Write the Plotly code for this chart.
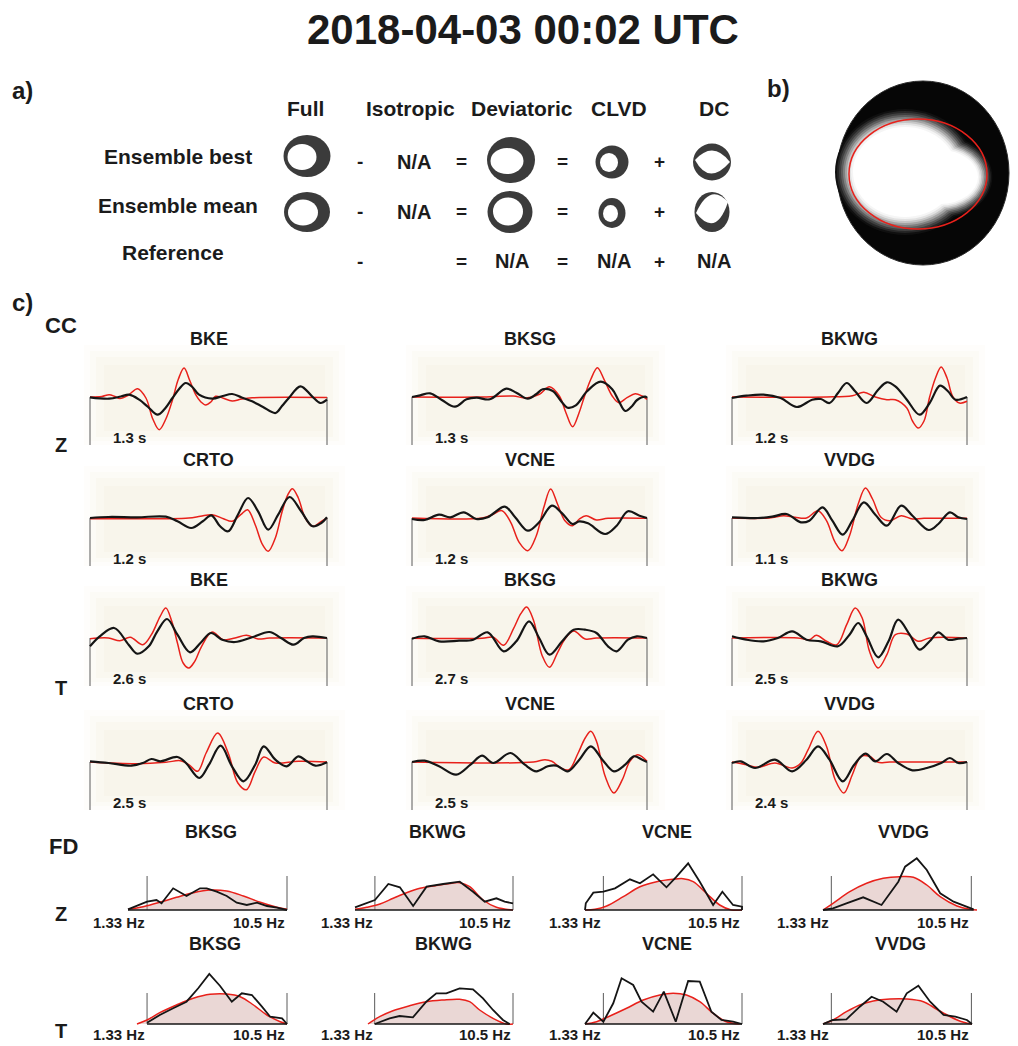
import plotly.graph_objects as go

# ======================= DATA =======================
TITLE = "2018-04-03 00:02 UTC"

A_COLUMNS = ["Full", "Isotropic", "Deviatoric", "CLVD", "DC"]
A_ROWS = ["Ensemble best", "Ensemble mean", "Reference"]
A_ROW1_TOKENS = ["ring", "-", "N/A", "=", "ring", "=", "ring", "+", "dc"]
A_ROW2_TOKENS = ["ring", "-", "N/A", "=", "ring", "=", "ring", "+", "dc"]
A_ROW3_TOKENS = ["", "-", "", "=", "N/A", "=", "N/A", "+", "N/A"]

CC_ROW_COMPONENT = ["Z", "", "T", ""]
CC_STATIONS = [["BKE", "BKSG", "BKWG"], ["CRTO", "VCNE", "VVDG"],
               ["BKE", "BKSG", "BKWG"], ["CRTO", "VCNE", "VVDG"]]
CC_SHIFTS = [["1.3 s", "1.3 s", "1.2 s"], ["1.2 s", "1.2 s", "1.1 s"],
             ["2.6 s", "2.7 s", "2.5 s"], ["2.5 s", "2.5 s", "2.4 s"]]

# --- CC waveforms: x = % of window, y = amplitude (red = synthetic, black = observed)
Z_BKE_SYN_X = [0, 5, 8.1, 10.5, 12.6, 16, 20.1, 23.6, 26.5, 29.2, 32, 34.8, 37.3, 39.7, 42, 44.6, 46.8, 48.8, 51, 53, 56, 60, 64, 68.4, 100]
Z_BKE_SYN_Y = [0, 0.5, 2.3, 0.5, -1.5, 1.5, 8.3, -1, -22, -32.7, -22, -3, 18, 29, 17, 2.3, -5, -8, -5, 0.7, -1, -4, -2, -0.8, -0.5]
Z_BKE_OBS_X = [0, 8.1, 13, 16.5, 20.8, 24.5, 28.5, 31.5, 34.8, 37.6, 40.4, 43.2, 46, 51.6, 56, 60, 64, 68.4, 73, 78.3, 81, 83.9, 88.8, 93.7, 97.2, 100]
Z_BKE_OBS_Y = [-0.3, -1.7, 0.5, 2.3, -2.7, -10, -17.7, -12, -1, 8, 14, 10, 2.3, -1.7, 1, 3, -0.5, -4.3, -10, -16, -9, -1, 10.7, 0.7, -6, -2.7]

Z_BKSG_SYN_X = [0, 28.9, 43, 48.6, 54.2, 58.5, 62.7, 65.5, 68.3, 71.1, 73.2, 76.1, 78.9, 81.7, 85.2, 88, 91.5, 95, 97.9, 100]
Z_BKSG_SYN_Y = [0, 0, 1, -1, 2.7, 10.3, 1, -15.7, -29.7, -15.7, -0.7, 17.7, 29.3, 17.7, 1, -5.7, -0.7, 3.3, 1, -2.3]
Z_BKSG_OBS_X = [0, 3.5, 7.7, 12.7, 18.3, 23.2, 27.5, 33.1, 40.1, 44.4, 49.3, 52.8, 55.6, 59.9, 63.4, 66.2, 69.7, 74.6, 80.3, 85.2, 88, 90.8, 93.7, 95.8, 99.3, 100]
Z_BKSG_OBS_Y = [0, 1.7, 3.7, -3, -9.7, -2.3, -0.7, -2.3, 8.3, 4.3, -1.7, 2.7, 7.7, 6, -4, -10.7, -8.3, 6, 15.3, 7.7, -4, -14, -9, -3, 0.3, -0.7]

Z_BKWG_SYN_X = [0, 40.2, 51.2, 56.1, 61, 65.9, 69.5, 74.4, 76.8, 79.3, 81.7, 84.1, 86.6, 89, 91.5, 93.9, 96.8, 100]
Z_BKWG_SYN_Y = [0, 0, 1.3, 4.7, 0, -2.7, -2.7, -11, -24, -31, -24, 0, 19, 30, 19, 0.7, -6, -4.3]
Z_BKWG_OBS_X = [0, 6.1, 13.4, 20.7, 27.6, 34.1, 37.8, 41.5, 45.1, 48.8, 52.4, 57.3, 62.2, 65.9, 69.5, 74.4, 79.8, 84.1, 88.5, 91.9, 95.1, 100]
Z_BKWG_OBS_Y = [-1, 1.3, 2.3, -1, -10, -2.7, -2, -6, 4, 14, 5.7, -6, 7.3, 14.7, 10.7, -2.7, -17.7, -6, 11.3, 5.7, -2.7, 0]

Z_CRTO_SYN_X = [0, 32, 41.7, 46.6, 51.5, 56.3, 59.9, 63.6, 66.5, 69.7, 72.8, 75.2, 78.2, 81.1, 83.5, 85.4, 87.9, 90.8, 94, 97.6, 100]
Z_CRTO_SYN_Y = [-0.7, -0.7, 0, 1.7, 3.3, -0.7, -3.3, 3.3, 8.3, -6.7, -26.7, -33.3, -20, 6.7, 23.3, 29.3, 20, 0, -8.3, -3.3, 0]
Z_CRTO_OBS_X = [0, 7.8, 19.9, 32, 36.9, 42.7, 47.6, 51.2, 54.9, 58.3, 62.4, 66.7, 70.9, 75.2, 79.4, 84.2, 89.1, 93.9, 97.6, 100]
Z_CRTO_OBS_Y = [0, 1, 0.7, 1.3, -3.3, -10, -3.3, 2.7, -8.3, -13.3, 3.3, 20, 6.7, -11.7, 3.3, 21, 6.7, -8.3, -5, 0.7]

Z_VCNE_SYN_X = [0, 29.8, 34.1, 38.3, 42, 45.6, 49.3, 52.9, 56.1, 59, 61.9, 65.1, 68.3, 71.2, 74.1, 78.5, 83.4, 100]
Z_VCNE_SYN_Y = [0, 0, 3.3, 7.3, -4.3, -24.3, -32.7, -17.7, 10.7, 29, 14, -2.7, -7.7, -1, 2.3, -2, -0.3, -0.3]
Z_VCNE_OBS_X = [0, 5.4, 11.5, 16.3, 22, 27.3, 32.2, 39.5, 43.9, 49.3, 54.1, 59.5, 63.9, 68.3, 71.2, 74.9, 82.2, 87.1, 91.9, 96.8, 100]
Z_VCNE_OBS_Y = [-1, -2, 3.3, 0.7, 5.7, -1, 0.7, 11.3, 0.7, -12.7, -4.3, 12.3, 4.7, -6, -3.3, -5.3, -16, -7.7, 6.7, 2.3, 0]

Z_VVDG_SYN_X = [0, 15.9, 22, 26.8, 31.7, 36.6, 40.2, 43.9, 46.8, 50, 53.7, 56.8, 59.8, 63.4, 67.1, 72, 76.8, 81.7, 100]
Z_VVDG_SYN_Y = [0, 0, 2.3, 0.7, 0, 7.3, -2.7, -24.3, -32.7, -17.7, 14, 30, 19, 0.7, -2.7, 2.3, -1, -0.3, -0.3]
Z_VVDG_OBS_X = [0, 11, 17.1, 23.2, 29.3, 32.9, 38.5, 42.7, 47.1, 51.2, 56.1, 61, 65.9, 72, 76.8, 83.7, 87.8, 92.7, 96.3, 100]
Z_VVDG_OBS_Y = [0.7, 0, 1.3, 4, -4.3, -2.7, 10.7, -2.7, -16.7, -2.7, 15.7, 3.3, -7.7, 12.3, 2.3, -12, -6, 5.7, 0.7, -1]

T_BKE_SYN_X = [0, 7.8, 12.6, 17, 22.3, 25.9, 29.6, 32, 34.5, 36.9, 39.3, 41.7, 44.2, 47.1, 51.5, 56.3, 61.2, 66, 70.9, 75.7, 100]
T_BKE_SYN_Y = [-0.7, 0, -2.7, 0.7, -6.7, 3.3, 21.7, 30, 16.7, -5, -25, -30, -23.3, -8.3, 6, -1.7, 0, 2.7, -1, 0, 0]
T_BKE_OBS_X = [0, 4.1, 10.2, 16.3, 19.9, 24.8, 28.4, 32.5, 36.9, 42.2, 46.6, 51, 55.8, 61.2, 68.4, 75.7, 80.6, 85.9, 90.3, 93.9, 100]
T_BKE_OBS_Y = [-8.3, 1.7, 10, -6.7, -15.7, -8.3, 6.7, 19, 3.3, -14.3, -5, 5, -1.7, -4, 0.7, 6, 0, -6.7, 0, 1.7, 0]

T_BKSG_SYN_X = [0, 29.8, 34.6, 39, 43.2, 46.3, 48.8, 51.7, 55.4, 58.5, 62, 65.1, 68.8, 73.7, 78.5, 100]
T_BKSG_SYN_Y = [-0.3, -0.3, 0.7, -7.3, 9.3, 24.3, 31, 17.7, -17.7, -29.3, -14.3, -1, 7, -1, 0, 0]
T_BKSG_OBS_X = [0, 5.4, 11.5, 20, 26.1, 32.2, 39, 44.4, 49.8, 54.1, 58.5, 63.9, 68.8, 73.7, 78.5, 83.4, 87.1, 91.9, 95.6, 100]
T_BKSG_OBS_Y = [-0.7, 1.7, -3.3, -2.7, -1.7, 5.7, -13.3, -3.3, 16.7, 0, -16.7, -3.3, 8.3, 8.3, 5, -8.3, -13.3, -1.7, 1.7, 0]

T_BKWG_SYN_X = [0, 28, 32.9, 35.9, 40.2, 44.6, 48.8, 52.4, 55.4, 58.5, 62.2, 65.9, 69.5, 74.4, 79.3, 84.1, 100]
T_BKWG_SYN_Y = [0, 0, -1.7, 2.7, -3.3, -6.7, 13.3, 30, 20, -13.3, -30, -16.7, 3.3, 4, -3.3, 0, 0]
T_BKWG_OBS_X = [0, 6.1, 13.4, 19.5, 25.6, 31.7, 37.8, 45.1, 50, 53.7, 57.3, 62.2, 66.6, 70.7, 75.6, 79.8, 84.1, 87.8, 91.9, 96.3, 100]
T_BKWG_OBS_Y = [1.7, -1.7, -3.3, 0, 6.7, -1.7, -3.3, -8.3, 3.3, 15, 1.7, -19.3, -3.3, 18.3, 3.3, -11.7, -3.3, 5.7, -1.7, -0.7, 0]

T_CRTO_SYN_X = [0, 19.9, 32, 38.1, 41.7, 45.4, 49, 53.9, 58.3, 62.4, 66, 69.7, 73.3, 78.2, 87.9, 100]
T_CRTO_SYN_Y = [0, -1.7, -0.3, 1.3, -2.7, -9.3, 9, 29, 9, -21, -27.7, -9.3, 5, -1, 0.7, 0]
T_CRTO_OBS_X = [0, 7.8, 17.5, 22.3, 25.9, 29.6, 36.9, 40.5, 46.1, 50.2, 55.1, 59.9, 64.8, 69.7, 73.3, 78.2, 83, 87.9, 91.5, 95.1, 100]
T_CRTO_OBS_Y = [0.7, -1, -3.7, -1, 3, 0.7, 5, -1, -16, -2.7, 16.3, -4.3, -19.3, -2.7, 15.7, 2.3, -4.3, 5.7, 0.7, -3.7, -0.3]

T_VCNE_SYN_X = [0, 51.7, 56.6, 59.5, 63.4, 66.8, 70.7, 73.7, 76.1, 78.5, 82.2, 85.9, 89.5, 92.7, 96.1, 100]
T_VCNE_SYN_Y = [0, 0, 2.3, 0.7, -6, -7.7, 9, 24, 30.7, 20.7, -14.3, -31, -17.7, 0.7, 7.3, 0.7]
T_VCNE_OBS_X = [0, 5.4, 11.5, 18.8, 24.9, 29.8, 34.6, 41.9, 48, 52.9, 57.8, 61.5, 66.3, 71.2, 76.1, 81, 85.9, 90.7, 94.4, 98, 100]
T_VCNE_OBS_Y = [0, 1.3, -4.3, -12.7, -2.7, 6.3, -1, 9, -2.7, -9.3, -4.3, -3.7, -9.3, 2.3, 15.7, 2.3, -9.3, -2.7, 5.7, 2.3, 0]

T_VVDG_SYN_X = [0, 6.1, 11, 18.3, 25.6, 29.3, 32.4, 36.6, 40.2, 43.9, 47.6, 51.2, 54.9, 58.5, 62.2, 67.1, 100]
T_VVDG_SYN_Y = [0, -2.7, -5.3, -1, -6, -1, 12.3, 30.7, 15.7, -17.7, -31, -12.7, 5.7, 5.7, -0.3, 0, 0]
T_VVDG_OBS_X = [0, 3.7, 9.8, 18.3, 25.6, 31.7, 36.6, 41.5, 47.1, 52, 56.8, 61, 65.9, 70.7, 76.8, 82.9, 89, 92.7, 96.3, 100]
T_VVDG_OBS_Y = [-1, 0.7, -6, 2.3, -9.3, 2.3, 15.7, 2.3, -19.3, -2.7, 8.3, 0.7, 8, -1, -8.3, -6, -1, 4, -1, 0]

# --- FD spectra: x = % of frequency window, y = amplitude
FD_STATIONS = ["BKSG", "BKWG", "VCNE", "VVDG"]
FD_COMPONENTS = ["Z", "T"]
FD_LOW_LABEL = "1.33 Hz"
FD_HIGH_LABEL = "10.5 Hz"

FD_Z_BKSG_SYN_X = [0, 9.5, 20, 30.5, 41.1, 51.6, 62.1, 72.6, 83.2, 93.7, 100]
FD_Z_BKSG_SYN_Y = [0.7, 3.3, 7.7, 12.7, 17.3, 20, 19, 14, 7.7, 2.7, 0.7]
FD_Z_BKSG_OBS_X = [0, 5.3, 12, 17.9, 21.1, 28.4, 36.8, 45.3, 49.5, 55.8, 62.1, 68.4, 74.7, 81.1, 87.4, 93.7, 100]
FD_Z_BKSG_OBS_Y = [0.7, 4, 8.3, 10, 6.7, 21.7, 14, 21.7, 21.7, 18.3, 14, 7.3, 5, 7.3, 4, 2.3, 0]

FD_Z_BKWG_SYN_X = [0, 7.4, 15.8, 24.2, 32.6, 41.1, 49.5, 57.9, 66.3, 72.6, 81.1, 89.5, 100]
FD_Z_BKWG_SYN_Y = [0.7, 2.7, 6, 11.7, 17.3, 21.7, 24, 26, 27.3, 23.3, 10, 2.7, 0]
FD_Z_BKWG_OBS_X = [0, 7.4, 12.6, 21.1, 28.4, 36.8, 45.3, 55.8, 66.3, 74.7, 82.1, 89.5, 94.7, 100]
FD_Z_BKWG_OBS_Y = [2.7, 7.3, 10, 26, 22.7, 4, 23.3, 26, 28.3, 18.3, 8.3, 11.7, 8.3, 6.7]

FD_Z_VCNE_SYN_X = [0, 6.4, 13.8, 24.4, 35, 45.6, 56.1, 62.5, 68.9, 77.3, 85.8, 93.2, 100]
FD_Z_VCNE_SYN_Y = [0, 0.7, 4, 13.3, 23.3, 28.3, 30.7, 31.3, 28.3, 16.7, 5, 0, 0]
FD_Z_VCNE_OBS_X = [0, 0.5, 5.3, 11.7, 19.1, 28.6, 35, 43.4, 51.9, 58.3, 65.7, 73.1, 81.6, 87.5, 94.3, 100, 100]
FD_Z_VCNE_OBS_Y = [0, 6.7, 17.3, 18.3, 21.7, 30.7, 26.7, 35.7, 22.7, 33.3, 46.7, 28.3, 5, 18.3, 5, 3.3, 0]

FD_Z_VVDG_SYN_X = [0, 6.5, 17.4, 28.3, 39.1, 50, 58.7, 67.4, 76.1, 87, 95.7, 100]
FD_Z_VVDG_SYN_Y = [0, 6.7, 18.3, 26.7, 31.7, 33.3, 32.7, 25, 13.3, 4, 0.7, 0]
FD_Z_VVDG_OBS_X = [0, 6.5, 15.2, 26.1, 38, 48.9, 53.3, 60.9, 67.4, 76.1, 84.8, 94.6, 97.8]
FD_Z_VVDG_OBS_Y = [0, 1.7, 6.7, 12.7, 5, 28.3, 43.3, 51.7, 40, 16.7, 8.3, 2.7, 0.7]

FD_T_BKSG_SYN_X = [0, 6.7, 15.2, 26.3, 37.5, 48.7, 59.8, 68.8, 77.7, 86.6, 95.5, 100]
FD_T_BKSG_SYN_Y = [0, 4, 11.3, 19, 25.7, 29.7, 30, 27.3, 19, 9, 2.3, 0]
FD_T_BKSG_OBS_X = [6.7, 15.2, 24.1, 33, 40.8, 48.2, 55.4, 63.2, 69.9, 76.6, 83.3, 88.8, 96.7, 100]
FD_T_BKSG_OBS_Y = [1.3, 9, 15.7, 22.3, 35.7, 50, 38, 22.3, 30.7, 29, 17.3, 7.3, 5.7, 0]

FD_T_BKWG_SYN_X = [0, 8, 17.2, 28.7, 40.2, 51.7, 63.2, 70.1, 77, 86.2, 95.4, 100]
FD_T_BKWG_SYN_Y = [0, 7.3, 13.3, 18.3, 22.3, 24, 24.7, 22.3, 14, 5.7, 0, 0]
FD_T_BKWG_OBS_X = [4.6, 14.9, 21.8, 31, 40.2, 47.1, 54, 63.2, 72.4, 79.3, 86.2, 93.1, 97.7]
FD_T_BKWG_OBS_Y = [0, 5.7, 8, 6.7, 22.3, 30.7, 30.7, 35.7, 34.7, 25.7, 14, 4, 0]

FD_T_VCNE_SYN_X = [0, 7.4, 15.9, 26.5, 37.1, 47.7, 56.1, 64.6, 73.1, 81.6, 90, 98.5]
FD_T_VCNE_SYN_Y = [0, 2.3, 8, 15.7, 24, 29, 30.7, 29, 22.3, 10.7, 2.3, 0]
FD_T_VCNE_OBS_X = [0, 5.3, 11.7, 18, 23.3, 30.7, 36, 43.4, 50.2, 57.8, 65.7, 73.1, 80.5, 86.9, 94.3, 100]
FD_T_VCNE_OBS_Y = [0, 11.3, 2.3, 20.7, 45.7, 39, 22.3, 12.3, 32.3, 2.3, 43, 42.3, 12.3, 4, 2.3, 0]

FD_T_VVDG_SYN_X = [0, 6.7, 15.7, 24.7, 33.7, 44.9, 56.2, 67.4, 76.4, 85.4, 94.4, 100]
FD_T_VVDG_SYN_Y = [0, 4, 12.3, 19, 23, 25, 25, 22.3, 14.7, 7.3, 1.7, 0]
FD_T_VVDG_OBS_X = [0, 6.7, 15.7, 24.7, 32.6, 40.4, 49.4, 56.2, 64, 71.9, 80.9, 88.8, 96.6, 100]
FD_T_VVDG_OBS_Y = [0, 4, 4.7, 17.3, 27.3, 22.3, 12.3, 30.7, 38.3, 22.3, 9, 7.3, 4, 0]

# band edges (1.33 Hz / 10.5 Hz) in % of each FD window
FD_Z_BAND = [(12, 100), (12.6, 100), (11.7, 100), (5.4, 96.3)]
FD_T_BAND = [(6.7, 100), (4.6, 100), (11.7, 100), (5.6, 99.6)]

# ======================= LAYOUT / STYLE =======================
W, H = 1018, 1046
FONT = "Liberation Sans, Arial, sans-serif"
INK = "#1b1b1b"
RED = "#e8211b"
BLACK = "#151515"
RING = "#3b3b3b"


def fx(x):
    return x / W


def fy(y):
    return 1 - y / H


fig = go.Figure()
annotations = []
shapes = []
axis_count = [0]


def add_axes(x0, x1, y_bottom, y_top, xr, yr):
    axis_count[0] += 1
    n = axis_count[0]
    s = "" if n == 1 else str(n)
    fig.update_layout({
        "xaxis" + s: dict(domain=[fx(x0), fx(x1)], range=xr, visible=False,
                          fixedrange=True, anchor="y" + s),
        "yaxis" + s: dict(domain=[fy(y_bottom), fy(y_top)], range=yr, visible=False,
                          fixedrange=True, anchor="x" + s),
    })
    return "x" + s, "y" + s


def text(x, y, s, size, xanchor="center", xref="paper", yref="paper", bold=True, color=INK):
    annotations.append(dict(
        x=x, y=y, xref=xref, yref=yref, text=f"<b>{s}</b>" if bold else s,
        showarrow=False, xanchor=xanchor, yanchor="middle",
        font=dict(family=FONT, size=size, color=color)))


def ellipse(cx, cy, rx, ry, fill, line=None, lw=0, layer="above", opacity=1):
    shapes.append(dict(
        type="circle", xref="paper", yref="paper",
        x0=fx(cx - rx), x1=fx(cx + rx), y0=fy(cy + ry), y1=fy(cy - ry),
        fillcolor=fill, line=dict(color=line or "rgba(0,0,0,0)", width=lw),
        layer=layer, opacity=opacity))


def p(x, y):
    return f"{fx(x):.5f},{fy(y):.5f}"


# ---------------- Title ----------------
text(fx(523), fy(30), TITLE, 42)

# ---------------- Panel a ----------------
text(fx(22), fy(90), "a)", 24)
HEAD_X = [305, 410, 522, 619, 714]
for name, hx in zip(A_COLUMNS, HEAD_X):
    text(fx(hx), fy(109), name, 21)

ROW_LABEL_XY = [(178, 156), (178, 205), (173, 253)]
for name, (lx, ly) in zip(A_ROWS, ROW_LABEL_XY):
    text(fx(lx), fy(ly), name, 21)

SLOT_X = [307, 360, 414, 461, 512, 562, 614, 659, 714]
ROW_Y = [162, 212, 261]
for tokens, ry in zip([A_ROW1_TOKENS, A_ROW2_TOKENS, A_ROW3_TOKENS], ROW_Y):
    for tok, sx in zip(tokens, SLOT_X):
        if tok in ("-", "=", "+", "N/A"):
            text(fx(sx), fy(ry), tok, 20 if tok == "N/A" else 19)

# rings (outer ellipse, inner white ellipse): cx, cy, rx, ry, icx, icy, irx, iry
RINGS = [
    (307, 156, 23.5, 21, 302, 157, 14.5, 13),
    (511, 160, 24, 23, 507, 161, 16.5, 13),
    (612, 162, 16.5, 16.5, 609, 162.5, 9, 9.5),
    (307, 212, 23, 20, 303, 212.5, 15, 13),
    (510, 212, 22.5, 21, 508, 211.5, 15, 14),
    (612, 213, 13.5, 15, 610.5, 213.5, 7.5, 8.5),
]
for cx, cy, rx, ry, icx, icy, irx, iry in RINGS:
    ellipse(cx, cy, rx, ry, RING)
    ellipse(icx, icy, irx, iry, "white")

# DC balls with lens-shaped white interior
DC_BALLS = [
    ((712, 162, 19, 18.5), (695, 160), (730, 162), (713, 140), (709, 186)),
    ((712, 212, 17.5, 20), (696, 213), (728, 202), (710, 182), (716, 238)),
]
for (cx, cy, rx, ry), L, R, cu, cl in DC_BALLS:
    ellipse(cx, cy, rx, ry, RING)
    path = f"M {p(*L)} Q {p(*cu)} {p(*R)} Q {p(*cl)} {p(*L)} Z"
    shapes.append(dict(type="path", xref="paper", yref="paper", path=path,
                       fillcolor="white", line=dict(width=0), layer="above"))

# ---------------- Panel b ----------------
text(fx(778), fy(88), "b)", 24)
ellipse(923, 173, 86, 92, "#060606", line="#2a2a2a", lw=1)
# soft white blob: main body + right-middle extension, blurred edge
BLOB_LEVELS = ["#101010", "#262626", "#404040", "#5e5e5e", "#808080", "#a4a4a4",
               "#c6c6c6", "#e2e2e2", "#f5f5f5", "#ffffff"]
for k, col in enumerate(BLOB_LEVELS):
    d = 2 * (len(BLOB_LEVELS) - 1 - k)
    ellipse(905, 172, 52 + d, 45 + d, col)
    ellipse(940, 177, 38 + d * 0.8, 27 + d * 0.8, col)
ellipse(918, 174, 69, 55, "rgba(0,0,0,0)", line=RED, lw=1.5)

# ---------------- Panel c: CC ----------------
text(fx(22), fy(302), "c)", 24)
text(fx(61), fy(325), "CC", 22)

CC_LEFT = [90, 412, 732]
CC_RIGHT = [327, 647, 967]
CC_BASE = [397, 518, 638, 762]

CC_DATA = [
    [(Z_BKE_SYN_X, Z_BKE_SYN_Y, Z_BKE_OBS_X, Z_BKE_OBS_Y),
     (Z_BKSG_SYN_X, Z_BKSG_SYN_Y, Z_BKSG_OBS_X, Z_BKSG_OBS_Y),
     (Z_BKWG_SYN_X, Z_BKWG_SYN_Y, Z_BKWG_OBS_X, Z_BKWG_OBS_Y)],
    [(Z_CRTO_SYN_X, Z_CRTO_SYN_Y, Z_CRTO_OBS_X, Z_CRTO_OBS_Y),
     (Z_VCNE_SYN_X, Z_VCNE_SYN_Y, Z_VCNE_OBS_X, Z_VCNE_OBS_Y),
     (Z_VVDG_SYN_X, Z_VVDG_SYN_Y, Z_VVDG_OBS_X, Z_VVDG_OBS_Y)],
    [(T_BKE_SYN_X, T_BKE_SYN_Y, T_BKE_OBS_X, T_BKE_OBS_Y),
     (T_BKSG_SYN_X, T_BKSG_SYN_Y, T_BKSG_OBS_X, T_BKSG_OBS_Y),
     (T_BKWG_SYN_X, T_BKWG_SYN_Y, T_BKWG_OBS_X, T_BKWG_OBS_Y)],
    [(T_CRTO_SYN_X, T_CRTO_SYN_Y, T_CRTO_OBS_X, T_CRTO_OBS_Y),
     (T_VCNE_SYN_X, T_VCNE_SYN_Y, T_VCNE_OBS_X, T_VCNE_OBS_Y),
     (T_VVDG_SYN_X, T_VVDG_SYN_Y, T_VVDG_OBS_X, T_VVDG_OBS_Y)],
]

CC_ROWLABEL_Y = [445, None, 688, None]
BEIGE_LAYERS = [(-6, 18, -52, 48, 0.05), (0, 12, -46, 44, 0.06), (6, 6, -40, 40, 0.07),
                (14, -2, -32, 34, 0.07)]
for r in range(4):
    base = CC_BASE[r]
    if CC_ROW_COMPONENT[r]:
        text(fx(61), fy(CC_ROWLABEL_Y[r]), CC_ROW_COMPONENT[r], 20)
    for c in range(3):
        left, right = CC_LEFT[c], CC_RIGHT[c]
        w = right - left
        # faint, soft beige backdrop
        for (dx0, dx1, dy0, dy1, a) in BEIGE_LAYERS:
            shapes.append(dict(type="rect", xref="paper", yref="paper",
                               x0=fx(left + dx0), x1=fx(right + dx1),
                               y0=fy(base + dy1), y1=fy(base + dy0),
                               fillcolor=f"rgba(228,214,170,{a})", line=dict(width=0),
                               layer="below"))
        xa, ya = add_axes(left - 0.02 * w, right + 0.02 * w, base + 48, base - 40,
                          [-2, 102], [-48, 40])
        sx, sy, ox, oy = CC_DATA[r][c]
        for xv in (0, 100):
            shapes.append(dict(type="line", xref=xa, yref=ya, x0=xv, x1=xv, y0=0, y1=-48,
                               line=dict(color="#5a5a5a", width=1), layer="below"))
        fig.add_trace(go.Scatter(x=sx, y=sy, xaxis=xa, yaxis=ya, mode="lines",
                                 line=dict(color=RED, width=1.5, shape="spline", smoothing=1.0),
                                 hoverinfo="skip", showlegend=False, cliponaxis=False))
        fig.add_trace(go.Scatter(x=ox, y=oy, xaxis=xa, yaxis=ya, mode="lines",
                                 line=dict(color=BLACK, width=2.2, shape="spline", smoothing=1.0),
                                 hoverinfo="skip", showlegend=False, cliponaxis=False))
        text(50, fy(base - 58), CC_STATIONS[r][c], 18, xref=xa)
        text(9, fy(base + 40), CC_SHIFTS[r][c], 15, xanchor="left", xref=xa)

# ---------------- Panel c: FD ----------------
text(fx(63), fy(846), "FD", 22)

FD_SPAN_Z = [(128, 287), (355, 513), (585, 742), (823, 977)]
FD_SPAN_T = [(137, 287), (368, 513), (585, 742), (823, 972)]
FD_BASE = [910, 1024]
FD_VLINE_H = [34, 31]
FD_ROWLABEL_Y = [914, 1031]
FD_TITLE_DY = [78, 80]
FD_LABEL_DY = [12, 10]

FD_DATA = [
    [(FD_Z_BKSG_SYN_X, FD_Z_BKSG_SYN_Y, FD_Z_BKSG_OBS_X, FD_Z_BKSG_OBS_Y),
     (FD_Z_BKWG_SYN_X, FD_Z_BKWG_SYN_Y, FD_Z_BKWG_OBS_X, FD_Z_BKWG_OBS_Y),
     (FD_Z_VCNE_SYN_X, FD_Z_VCNE_SYN_Y, FD_Z_VCNE_OBS_X, FD_Z_VCNE_OBS_Y),
     (FD_Z_VVDG_SYN_X, FD_Z_VVDG_SYN_Y, FD_Z_VVDG_OBS_X, FD_Z_VVDG_OBS_Y)],
    [(FD_T_BKSG_SYN_X, FD_T_BKSG_SYN_Y, FD_T_BKSG_OBS_X, FD_T_BKSG_OBS_Y),
     (FD_T_BKWG_SYN_X, FD_T_BKWG_SYN_Y, FD_T_BKWG_OBS_X, FD_T_BKWG_OBS_Y),
     (FD_T_VCNE_SYN_X, FD_T_VCNE_SYN_Y, FD_T_VCNE_OBS_X, FD_T_VCNE_OBS_Y),
     (FD_T_VVDG_SYN_X, FD_T_VVDG_SYN_Y, FD_T_VVDG_OBS_X, FD_T_VVDG_OBS_Y)],
]

for r in range(2):
    base = FD_BASE[r]
    spans = FD_SPAN_Z if r == 0 else FD_SPAN_T
    bands = FD_Z_BAND if r == 0 else FD_T_BAND
    text(fx(61), fy(FD_ROWLABEL_Y[r]), FD_COMPONENTS[r], 20)
    for c in range(4):
        left, right = spans[c]
        w = right - left
        xa, ya = add_axes(left - 0.02 * w, right + 0.02 * w, base + 3, base - 56,
                          [-2, 102], [-3, 56])
        sx, sy, ox, oy = FD_DATA[r][c]
        lo, hi = bands[c]
        for xv in (lo, hi):
            shapes.append(dict(type="line", xref=xa, yref=ya, x0=xv, x1=xv, y0=0,
                               y1=FD_VLINE_H[r], line=dict(color="#5a5a5a", width=1),
                               layer="below"))
        fig.add_trace(go.Scatter(x=sx, y=sy, xaxis=xa, yaxis=ya, mode="lines",
                                 line=dict(color=RED, width=1.5, shape="spline"),
                                 fill="tozeroy", fillcolor="rgba(205,160,155,0.42)",
                                 hoverinfo="skip", showlegend=False, cliponaxis=False))
        fig.add_trace(go.Scatter(x=[min(ox), max(ox)], y=[0, 0], xaxis=xa, yaxis=ya,
                                 mode="lines", line=dict(color=BLACK, width=1.6),
                                 hoverinfo="skip", showlegend=False, cliponaxis=False))
        fig.add_trace(go.Scatter(x=ox, y=oy, xaxis=xa, yaxis=ya, mode="lines",
                                 line=dict(color=BLACK, width=1.8),
                                 hoverinfo="skip", showlegend=False, cliponaxis=False))
        text(52, fy(base - FD_TITLE_DY[r]), FD_STATIONS[c], 18, xref=xa)
        text(lo, fy(base + FD_LABEL_DY[r]), FD_LOW_LABEL, 15, xanchor="right", xref=xa)
        text(hi, fy(base + FD_LABEL_DY[r]), FD_HIGH_LABEL, 15, xanchor="right", xref=xa)

fig.update_layout(
    width=W, height=H, margin=dict(l=0, r=0, t=0, b=0),
    paper_bgcolor="white", plot_bgcolor="rgba(0,0,0,0)",
    showlegend=False, annotations=annotations, shapes=shapes,
    hovermode=False, font=dict(family=FONT, color=INK),
)

fig.write_html("out.html", config={"displayModeBar": False})
